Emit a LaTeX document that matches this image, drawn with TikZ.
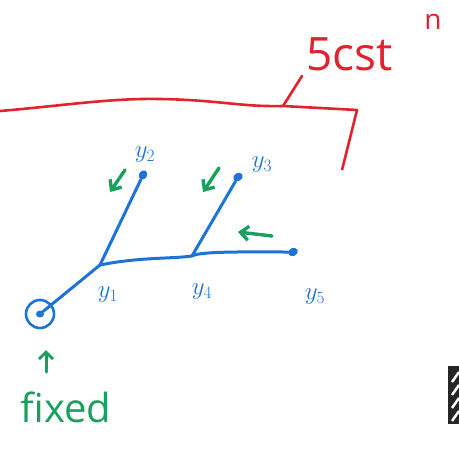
\documentclass[tikz,border=0pt]{standalone}
\usepackage{fontspec}
\setmainfont{Open Sans}
\usetikzlibrary{arrows.meta,shapes.geometric}
\definecolor{pen}{RGB}{30,115,215}
\definecolor{grn}{RGB}{25,160,95}
\definecolor{rd}{RGB}{225,35,45}
\tikzset{
  dotnode/.style={ellipse,fill=pen,inner sep=0pt,minimum width=10pt,minimum height=8pt},
  edge/.style={pen,line width=3pt,line cap=round},
  lbl/.style={pen,font=\fontsize{26}{26}\selectfont,inner sep=0pt},
  garrow/.style={grn,line width=3.4pt,line cap=round,-{Straight Barb[length=8pt,width=14pt,line width=3.4pt]}},
}
\begin{document}
\begin{tikzpicture}[x=1pt,y=-1pt]
\useasboundingbox (0,0) rectangle (459,451);
% red bracket
\coordinate (rl) at (0,111);
\coordinate (rc) at (357,110);
\coordinate (rb) at (342,170);
\coordinate (tk) at (283,106);
\coordinate (tt) at (302,76);
\draw[rd,line width=2.6pt,line join=round] (rl) .. controls (60,106) and (110,98) .. (160,99)
  .. controls (220,100) and (240,107) .. (283,106) -- (rc) -- (rb);
\draw[rd,line width=2.6pt,line cap=round] (tk) -- (tt);
\node[rd,font=\fontsize{46}{46}\selectfont,anchor=base west,inner sep=0pt] (cst) at (306,70) {5cst};
\node[rd,font=\fontsize{28}{28}\selectfont,inner sep=0pt] (nn) at (433,22) {n};
% tree
\node[circle,draw=pen,line width=2.6pt,minimum size=28pt,inner sep=0pt] (f) at (40,314) {};
\node[dotnode,minimum width=8pt,minimum height=7pt] (f0) at (40,314) {};
\coordinate (y1) at (100,265);
\coordinate (y4) at (192,256);
\node[dotnode,rotate=60] (y2) at (143,175) {};
\node[dotnode,rotate=30] (y3) at (238,177) {};
\node[dotnode,rotate=20] (y5) at (293,252) {};
\draw[edge] (f0) -- (y1);
\draw[edge] (y1) -- (y2);
\draw[edge] (y1) .. controls (140,257) and (170,259) .. (y4);
\draw[edge] (y4) -- (y3);
\draw[edge] (y4) .. controls (200,251) and (250,252) .. (y5);
% labels
\node[lbl] (l1) at (108,295) {$y_{1}$};
\node[lbl] (l2) at (145,155) {$y_{2}$};
\node[lbl] (l3) at (262,165) {$y_{3}$};
\node[lbl] (l4) at (202,292) {$y_{4}$};
\node[lbl] (l5) at (315,297) {$y_{5}$};
% green arrows
\coordinate (a2s) at (125,170); \coordinate (a2e) at (110,192);
\coordinate (a3s) at (219,168); \coordinate (a3e) at (203,192);
\coordinate (a5s) at (272,236); \coordinate (a5e) at (238,232);
\draw[garrow] (a2s) -- (a2e);
\draw[garrow] (a3s) -- (a3e);
\draw[garrow] (a5s) -- (a5e);
\coordinate (fa) at (46,372); \coordinate (fb) at (46,350);
\draw[grn,line width=3pt,line cap=round,-{Straight Barb[length=7pt,width=14pt,line width=3pt]}] (fa) -- (fb);
\node[grn,font=\fontsize{40}{40}\selectfont,inner sep=0pt] (fx) at (66,407) {fixed};
% hatched box at right edge
\node[fill=black!85,minimum width=14pt,minimum height=58pt,inner sep=0pt,anchor=north west] (hb) at (448,366) {};
\foreach \yy in {372,385,398,411}{\draw[white,line width=2.5pt] (452,\yy+10) -- (459,\yy);}
\end{tikzpicture}
\end{document}
